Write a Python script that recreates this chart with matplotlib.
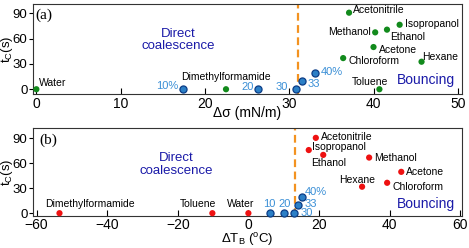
import matplotlib
matplotlib.use("Agg")
import matplotlib.pyplot as plt

plt.rcParams['font.family'] = ['Liberation Sans', 'DejaVu Sans']
plt.rcParams['mathtext.fontset'] = 'custom'
plt.rcParams['mathtext.rm'] = 'Liberation Sans'
plt.rcParams['mathtext.it'] = 'Liberation Sans:italic'

# solvents: name, delta sigma (mN/m), delta T_B (C), t_c (s) for each panel
solvents = ['Water', 'Dimethylformamide', 'Toluene', 'Chloroform', 'Acetone',
            'Methanol', 'Ethanol', 'Isopropanol', 'Acetonitrile', 'Hexane']
dsigma = [0, 22.5, 40.7, 36.4, 40.0, 40.2, 41.6, 43.1, 37.1, 45.7]
tc_a = [0, 0, 0, 36.9, 50.0, 67.4, 70.6, 76.4, 90.7, 32.6]

dTB = [0, -53.5, -10.2, 39.3, 43.3, 34.2, 21.2, 17.1, 19.1, 32.2]
tc_b = [0, 0, 0, 36.4, 49.5, 66.6, 69.8, 75.6, 90.2, 31.7]

# mixtures
mix_labels_a = ['10%', '20', '30', '33', '40%']
mix_labels_b = ['10', '20', '30', '33', '40%']
mix_dsigma = [17.4, 26.3, 30.8, 31.5, 33.1]
mix_tc_a = [0, 0, 0, 10.0, 19.4]
mix_dTB = [6.1, 10.1, 13.0, 14.1, 15.1]
mix_tc_b = [0, 0, 0, 9.7, 19.8]

threshold_a = 31.0
threshold_b = 13.2

# label offsets in pixels (dx, dy, ha)
off_a = [(3, 6, 'left'), (0, 12, 'center'), (-9, 7, 'center'), (5, -3, 'left'),
         (5, -3, 'left'), (-4, 0, 'right'), (3, -7, 'left'), (5, 1, 'left'),
         (4, 3, 'left'), (1, 5, 'left')]
off_b = [(-8, 9, 'center'), (-14, 9, 'left'), (4, 9, 'right'), (5, -4, 'left'),
         (5, 0, 'left'), (5, 0, 'left'), (5, -8, 'center'), (3, 3, 'left'),
         (5, 1, 'left'), (-5, 7, 'center')]
mix_off_a = [(-5, 3, 'right'), (-4, 2, 'right'), (-8, 2, 'right'), (6, -3, 'left'), (5, 1, 'left')]
mix_off_b = [(-1, 9, 'center'), (1, 9, 'center'), (6, 0, 'left'), (6, 1, 'left'), (3, 5, 'left')]

BLUE_FACE = '#2b7fc6'
BLUE_EDGE = '#0b3c86'
BLUE_TEXT = '#3a8fd6'
NAVY = '#1a1aa8'
ORANGE = '#f39220'

fig = plt.figure(figsize=(4.69, 2.48), dpi=100)
W, H = 469.0, 248.0
ax1 = fig.add_axes([33 / W, 1 - 94.3 / H, 429 / W, 90.3 / H])
ax2 = fig.add_axes([33 / W, 1 - 215.7 / H, 429 / W, 87.7 / H])


def style_axes(ax):
    for sp in ax.spines.values():
        sp.set_linewidth(0.8)
        sp.set_color('#333333')
    ax.tick_params(axis='x', direction='in', length=4, width=0.8, pad=2, labelsize=10)
    ax.tick_params(axis='y', direction='out', length=3, width=0.8, pad=1, labelsize=9.5)
    ax.set_yticks([0, 30, 60, 90])
    ax.set_ylabel('t$_\\mathrm{C}$(s)', fontsize=9.5)
    ax.yaxis.set_label_coords(-0.041, 0.5)


def draw_panel(ax, xs, ys, offs, mx, my, mlabels, moffs, color, thr):
    ax.axvline(thr, color=ORANGE, linestyle=(0, (3.5, 2)), linewidth=1.6, zorder=1)
    ax.scatter(xs, ys, s=20, color=color, edgecolors='none', zorder=3, clip_on=False)
    ax.scatter(mx, my, s=26, color=BLUE_FACE, edgecolors=BLUE_EDGE, linewidths=0.9,
               zorder=3, clip_on=False)
    for name, x, y, (dx, dy, ha) in zip(solvents, xs, ys, offs):
        ax.annotate(name, (x, y), xytext=(dx, dy), textcoords='offset pixels',
                    ha=ha, va='center', fontsize=7.5, color='black')
    for name, x, y, (dx, dy, ha) in zip(mlabels, mx, my, moffs):
        ax.annotate(name, (x, y), xytext=(dx, dy), textcoords='offset pixels',
                    ha=ha, va='center', fontsize=8, color=BLUE_TEXT)


# panel (a)
style_axes(ax1)
draw_panel(ax1, dsigma, tc_a, off_a, mix_dsigma, mix_tc_a, mix_labels_a, mix_off_a,
           '#128a1c', threshold_a)
ax1.set_xlim(-0.4, 50.5)
ax1.set_ylim(-6, 101)
ax1.set_xticks([0, 10, 20, 30, 40, 50])
ax1.set_xlabel('Δσ (mN/m)', fontsize=10)
ax1.xaxis.set_label_coords(0.5, -0.135)
ax1.text(0.006, 0.878, '(a)', transform=ax1.transAxes, fontsize=11,
         family='Liberation Serif', va='center', ha='left')
ax1.text(0.338, 0.601, 'Direct\ncoalescence', transform=ax1.transAxes, ha='center',
         va='center', fontsize=9.5, color=NAVY, linespacing=1.05)
ax1.text(0.916, 0.158, 'Bouncing', transform=ax1.transAxes, ha='center', va='center',
         fontsize=10, color=NAVY)

# panel (b)
style_axes(ax2)
draw_panel(ax2, dTB, tc_b, off_b, mix_dTB, mix_tc_b, mix_labels_b, mix_off_b,
           '#ee1111', threshold_b)
ax2.set_xlim(-61, 60.5)
ax2.set_ylim(-3, 102)
ax2.set_xticks([-60, -40, -20, 0, 20, 40, 60])
ax2.set_xlabel('ΔT$_\\mathrm{B}$ ($^\\mathrm{o}$C)', fontsize=9.5)
ax2.xaxis.set_label_coords(0.5, -0.18)
ax2.text(0.016, 0.863, '(b)', transform=ax2.transAxes, fontsize=11,
         family='Liberation Serif', va='center', ha='left')
ax2.text(0.333, 0.586, 'Direct\ncoalescence', transform=ax2.transAxes, ha='center',
         va='center', fontsize=9.5, color=NAVY, linespacing=1.05)
ax2.text(0.915, 0.13, 'Bouncing', transform=ax2.transAxes, ha='center', va='center',
         fontsize=10, color=NAVY)

fig.savefig('out.png', dpi=100)
